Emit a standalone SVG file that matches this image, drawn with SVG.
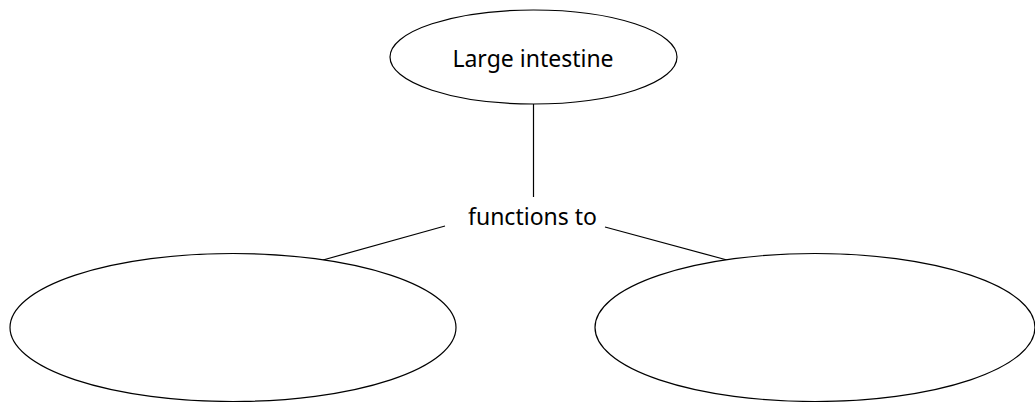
<svg xmlns="http://www.w3.org/2000/svg" width="1035" height="402" viewBox="0 0 1035 402">
<style>
.n{fill:#fff;stroke:#000;stroke-width:1.2}
.c{stroke:#000;stroke-width:1.2;fill:none}
text{font-family:"Noto Sans","Open Sans",sans-serif;font-size:23px;fill:#000;text-anchor:middle}
</style>
<rect width="1035" height="402" fill="#fff"/>
<g id="connectors">
<line class="c" x1="533.5" y1="104" x2="533.5" y2="197"/>
<line class="c" x1="445" y1="226" x2="323" y2="260"/>
<line class="c" x1="605" y1="227" x2="727" y2="260"/>
</g>
<g id="node-large-intestine">
<ellipse class="n" cx="533.5" cy="57" rx="143.5" ry="47"/>
<text x="533" y="66.5">Large intestine</text>
</g>
<g id="label-functions-to">
<text x="532.5" y="225">functions to</text>
</g>
<g id="node-left">
<ellipse class="n" cx="233" cy="327.5" rx="223" ry="74"/>
</g>
<g id="node-right">
<ellipse class="n" cx="815" cy="327.5" rx="220" ry="74"/>
</g>
</svg>
